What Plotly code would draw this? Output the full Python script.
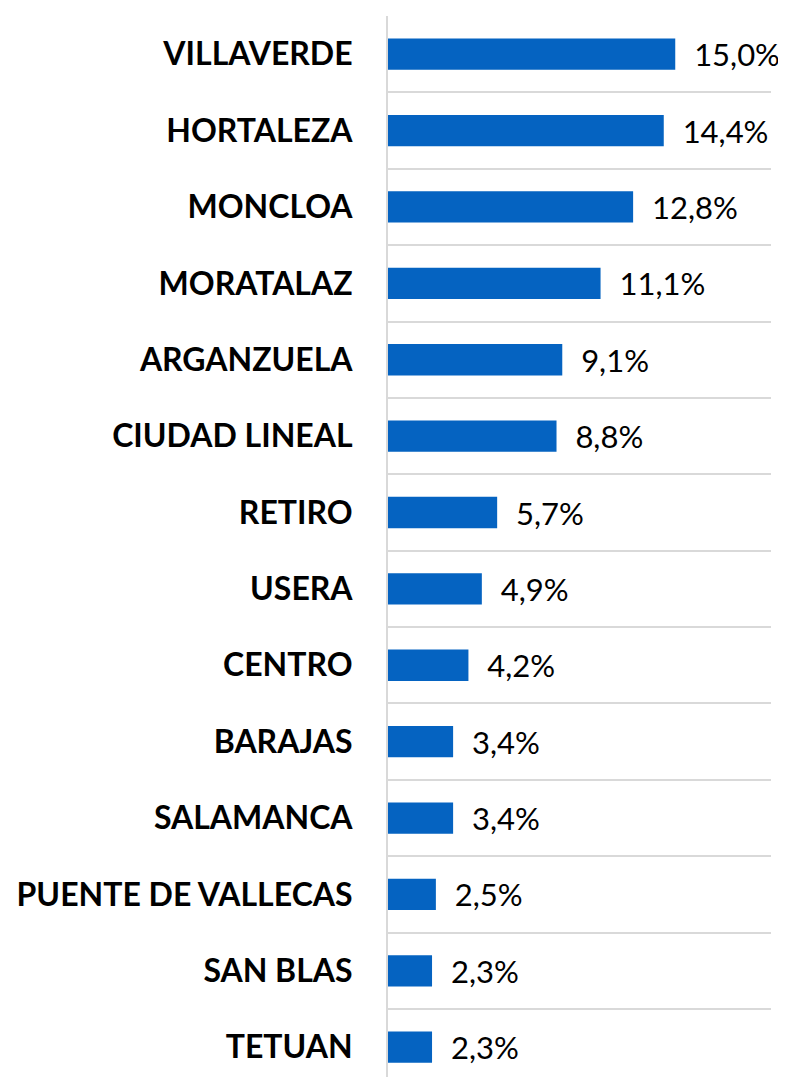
import plotly.graph_objects as go

categories = ["VILLAVERDE", "HORTALEZA", "MONCLOA", "MORATALAZ", "ARGANZUELA",
              "CIUDAD LINEAL", "RETIRO", "USERA", "CENTRO", "BARAJAS",
              "SALAMANCA", "PUENTE DE VALLECAS", "SAN BLAS", "TETUAN"]
values = [15.0, 14.4, 12.8, 11.1, 9.1, 8.8, 5.7, 4.9, 4.2, 3.4, 3.4, 2.5, 2.3, 2.3]

positions = list(range(len(categories)))
boundaries = [p - 0.5 for p in positions] + [len(categories) - 0.5]

fig = go.Figure(go.Bar(
    x=values,
    y=positions,
    orientation="h",
    marker=dict(color="#0563C1", line=dict(width=0)),
    width=0.41,
    texttemplate="\u00a0\u00a0%{x:.1f}%",
    textposition="outside",
    textfont=dict(family="Lato", size=31, color="#000000"),
    constraintext="none",
    cliponaxis=False,
))

fig.update_layout(
    width=778, height=1069,
    margin=dict(l=380, r=15, t=8, b=0, pad=0),
    plot_bgcolor="white", paper_bgcolor="white",
    separators=",.",
    showlegend=False,
    xaxis=dict(range=[0, 20], showgrid=False, showticklabels=False,
               zeroline=False, showline=False, ticks=""),
    yaxis=dict(
        range=[13.39, -0.5],
        tickmode="array", tickvals=positions, ticktext=categories,
        tickfont=dict(family="Lato", size=32, color="#000000", weight="bold"),
        ticklabelstandoff=27,
        showgrid=False, zeroline=False,
        showline=True, linecolor="#d9d9d9", linewidth=2,
        ticks="",
        minor=dict(tickmode="array", tickvals=boundaries, showgrid=True,
                   gridcolor="#d9d9d9", gridwidth=2, ticks=""),
    ),
)

fig.write_html("out.html")
